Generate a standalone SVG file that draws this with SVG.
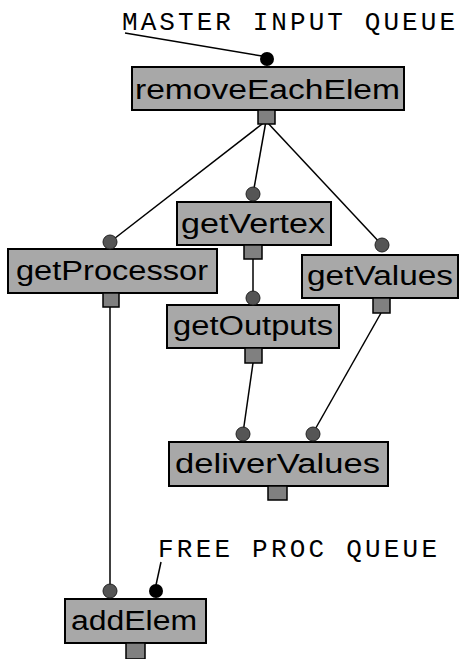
<svg xmlns="http://www.w3.org/2000/svg" width="462" height="659" viewBox="0 0 462 659">
<style>
.box{fill:#a8a8a8;stroke:#000;stroke-width:2}
.port{fill:#808080;stroke:#000;stroke-width:1.5}
.in{fill:#555;stroke:#222;stroke-width:1}
.blk{fill:#000}
.lbl{font-family:"Liberation Sans",Arial,sans-serif;font-size:27px;fill:#000}
.q{font-family:"Liberation Mono","Courier New",monospace;font-size:26px;fill:#000}
.c{stroke:#000;stroke-width:1.5;fill:none}
</style>
<rect width="462" height="659" fill="#fff"/>
<g id="connectors">
<path class="c" d="M125 33 L262 56"/>
<path class="c" d="M161 562 L156 585"/>
<path class="c" d="M266 121 L110 242"/>
<path class="c" d="M266 121 L253 194"/>
<path class="c" d="M266 121 L382 245"/>
<path class="c" d="M253 259 L253 298"/>
<path class="c" d="M253 363 L243 433"/>
<path class="c" d="M381 313 L313 433"/>
<path class="c" d="M110 306 L110 590"/>
</g>
<g id="master-input-queue">
<text class="q" x="122" y="30" textLength="333" lengthAdjust="spacing">MASTER INPUT QUEUE</text>
</g>
<g id="free-proc-queue">
<text class="q" x="158" y="557" textLength="279" lengthAdjust="spacing">FREE PROC QUEUE</text>
</g>
<g id="removeEachElem">
<rect class="box" x="132" y="67" width="272" height="43"/>
<rect class="port" x="258" y="110" width="17" height="14"/>
<circle class="blk" cx="267" cy="59" r="7"/>
<text class="lbl" x="135" y="99" textLength="265" lengthAdjust="spacingAndGlyphs">removeEachElem</text>
</g>
<g id="getProcessor">
<rect class="box" x="8" y="249" width="209" height="44"/>
<rect class="port" x="103" y="293" width="16" height="14"/>
<circle class="in" cx="110" cy="242" r="7"/>
<text class="lbl" x="16" y="280" textLength="192" lengthAdjust="spacingAndGlyphs">getProcessor</text>
</g>
<g id="getVertex">
<rect class="box" x="177" y="202" width="154" height="43"/>
<rect class="port" x="244" y="245" width="18" height="14"/>
<circle class="in" cx="253" cy="194" r="7"/>
<text class="lbl" x="181" y="233" textLength="144" lengthAdjust="spacingAndGlyphs">getVertex</text>
</g>
<g id="getValues">
<rect class="box" x="302" y="255" width="156" height="43"/>
<rect class="port" x="373" y="298" width="17" height="15"/>
<circle class="in" cx="382" cy="245" r="7"/>
<text class="lbl" x="307" y="285" textLength="146" lengthAdjust="spacingAndGlyphs">getValues</text>
</g>
<g id="getOutputs">
<rect class="box" x="167" y="305" width="172" height="43"/>
<rect class="port" x="245" y="348" width="17" height="15"/>
<circle class="in" cx="253" cy="298" r="7"/>
<text class="lbl" x="173" y="335" textLength="160" lengthAdjust="spacingAndGlyphs">getOutputs</text>
</g>
<g id="deliverValues">
<rect class="box" x="169" y="442" width="219" height="44"/>
<rect class="port" x="268" y="486" width="19" height="14"/>
<circle class="in" cx="243" cy="434" r="7"/>
<circle class="in" cx="313" cy="434" r="7"/>
<text class="lbl" x="175" y="473" textLength="205" lengthAdjust="spacingAndGlyphs">deliverValues</text>
</g>
<g id="addElem">
<rect class="box" x="65" y="599" width="141" height="44"/>
<rect class="port" x="126" y="643" width="19" height="16"/>
<circle class="in" cx="110" cy="591" r="7"/>
<circle class="blk" cx="156" cy="591" r="7"/>
<text class="lbl" x="71" y="630" textLength="126" lengthAdjust="spacingAndGlyphs">addElem</text>
</g>
</svg>
